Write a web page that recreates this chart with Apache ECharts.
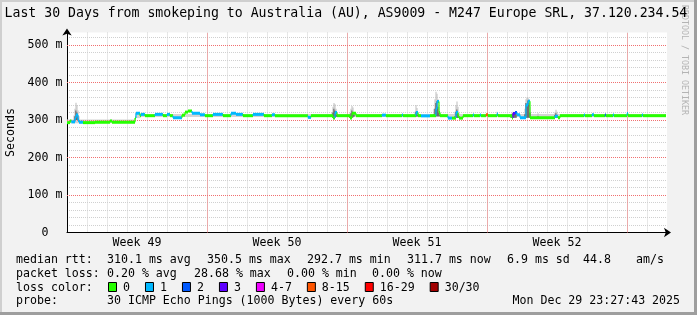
<!DOCTYPE html>
<html><head><meta charset="utf-8">
<script src="https://cdn.jsdelivr.net/npm/echarts@6/dist/echarts.min.js"></script>
<style>html,body{margin:0;padding:0;background:#f2f2f2}#c{width:697px;height:315px}</style>
</head><body><div id="c"></div>
<script>
// ---------- DATA ----------
const titleText = 'Last 30 Days from smokeping to Australia (AU), AS9009 - M247 Europe SRL, 37.120.234.54';
const yTicks = [0, 100, 200, 300, 400, 500];
const weekBounds = [7, 14, 21, 28];
const weekTicks = [3.5, 10.5, 17.5, 24.5];
const weekLabels = ['Week 49', 'Week 50', 'Week 51', 'Week 52'];
const lossLabels = ['0', '1', '2', '3', '4-7', '8-15', '16-29', '30/30'];
const lossColors = ['#26ff00', '#00b8ff', '#0059ff', '#5e00ff', '#ee00ff', '#ff5500', '#ff0000', '#a10000'];
const rttStats = ['310.1 ms avg', '350.5 ms max', '292.7 ms min', '311.7 ms now', '6.9 ms sd', '44.8', 'am/s'];
const lossStats = ['0.20 % avg', '28.68 % max', '0.00 % min', '0.00 % now'];
const probeText = '30 ICMP Echo Pings (1000 Bytes) every 60s';
const dateText = 'Mon Dec 29 23:27:43 2025';
const lastDay = 29.95;

// median rtt segments: start day, value (ms), loss class
const medStart = [0.00,0.15,0.22,0.40,0.45,0.55,0.60,0.80,1.40,2.15,2.25,3.40,3.45,3.65,3.70,3.90,4.40,4.80,5.00,5.15,5.30,5.75,5.90,6.05,6.25,6.65,6.90,7.30,7.80,8.20,8.45,8.80,9.30,9.85,10.25,10.40,12.05,12.20,13.30,13.40,13.50,14.15,14.25,14.45,15.75,15.95,16.75,16.80,17.45,17.55,17.70,18.15,18.45,18.50,18.60,18.65,19.05,19.25,19.45,19.55,19.60,19.80,20.30,20.35,20.65,20.70,20.95,21.05,21.50,21.55,22.25,22.30,22.40,22.50,22.65,22.95,23.05,23.15,24.40,24.55,24.65,25.85,25.90,26.25,26.35,26.90,26.95,27.30,27.35,28.00,28.05,28.75,28.80];
const medMs    = [293,297,295,305,313,300,294,293,294,297,294,305,318,311.5,315,311.5,315,311.5,315,311.5,306,313,321,324,318,314,311.5,315,311.5,318,315,311.5,315,311.5,314,311.5,307,311.5,305,320,311.5,305,318,311.5,313,311.5,313,311.5,320,311.5,311,311.5,330,349,320,311.5,305,305,320,310,305,311.5,313,311.5,313,311.5,314,311.5,316,311.5,305,317,320,314,306,340,350,306,310,306,311.5,313,311.5,314,311.5,313,311.5,313,311.5,317,311.5,313,311.5];
const medLoss  = [0,0,1,1,1,1,1,0,0,0,0,0,1,0,1,0,1,0,1,0,1,0,0,0,1,1,0,1,0,1,1,0,1,0,1,0,1,0,0,1,0,0,0,0,1,0,1,0,1,0,1,0,1,1,0,0,1,0,1,0,0,0,1,0,1,0,5,0,1,0,0,3,2,1,1,1,1,0,1,0,0,1,0,1,0,2,0,1,0,1,0,1,0];

// smoke band (spread of pings) segments: start day, low, high (ms)
const bandStart = [0.00, 3.40, 3.65];
const bandLo    = [291, 305, 308];
const bandHi    = [301, 320, 316];

// smoke spikes, one column per 0.05 day: day, low, core top, outer top (ms)
const smokeDay  = [0.35,0.40,0.45,0.50,0.55,0.60, 13.25,13.30,13.35,13.40,13.45,13.50, 14.15,14.20,14.25,14.30,14.35, 17.40,17.45,17.50,17.55, 18.35,18.40,18.45,18.50,18.55,18.60,18.65, 19.40,19.45,19.50,19.55,19.60, 21.50, 22.20,22.25,22.30,22.35,22.40,22.45, 22.90,22.95,23.00,23.05,23.10,23.15, 23.55, 24.40,24.45,24.50, 26.90];
const smokeLo   = [296,298,300,300,298,295, 308,305,305,306,308,309, 305,305,306,307,309, 309,309,309,310, 310,310,310,310,310,310,310, 305,305,305,305,305, 310, 306,306,306,306,306,306, 306,306,306,306,306,306, 306, 306,306,306, 310];
const smokeCore = [300,310,325,320,310,300, 312,320,330,325,318,313, 310,318,325,320,314, 313,322,318,313, 315,330,345,350,335,320,313, 310,322,328,318,310, 314, 310,315,318,316,320,317, 315,345,340,352,345,320, 310, 313,318,313, 313];
const smokeHi   = [312,330,346,340,325,310, 320,335,345,342,330,320, 318,330,337,333,322, 322,340,332,320, 330,355,375,370,355,335,320, 322,340,349,335,318, 322, 314,318,322,320,322,320, 330,355,360,360,355,335, 318, 320,327,322, 316];

// ---------- CHART ----------
const FONT = '"DejaVu Sans Mono", monospace';
const chart = echarts.init(document.getElementById('c'), null, {renderer: 'canvas'});

const medData = medStart.map((d, i) => [d, medMs[i], medLoss[i]]);
const bandData = bandStart.map((d, i) => [d, bandLo[i], bandHi[i]]);
const smokeData = smokeDay.map((d, i) => [d, smokeLo[i], smokeCore[i], smokeHi[i]]);
const redGrid = weekBounds.map(d => ({xAxis: d})).concat(yTicks.filter(v => v > 0).map(v => ({yAxis: v})));

function textEl(x, y, text, extra) {
  return Object.assign({type: 'text', x: x, y: y, silent: true,
    style: Object.assign({text: text, font: '11.6px ' + FONT, fill: '#000', verticalAlign: 'middle', align: 'left'}, (extra || {}))});
}
const CW = 6.98;
const g = [];
g.push({type: 'rect', shape: {x: 0, y: 0, width: 697, height: 2}, style: {fill: '#cfcfcf'}, silent: true});
g.push({type: 'rect', shape: {x: 0, y: 0, width: 2, height: 315}, style: {fill: '#cfcfcf'}, silent: true});
g.push({type: 'rect', shape: {x: 694, y: 0, width: 3, height: 315}, style: {fill: '#9e9e9e'}, silent: true});
g.push({type: 'rect', shape: {x: 0, y: 312, width: 697, height: 3}, style: {fill: '#9e9e9e'}, silent: true});
g.push(textEl(684, 5, 'RRDTOOL / TOBI OETIKER', {font: '8.3px ' + FONT, fill: '#b4b4b4'}));
g[g.length - 1].rotation = -Math.PI / 2;
g.push(textEl(4.5, 14, titleText, {font: '13.2px ' + FONT}));
const sec = textEl(10.5, 132.5, 'Seconds', {align: 'center'});
sec.rotation = Math.PI / 2;
g.push(sec);
// row 1
g.push(textEl(16, 259.5, 'median rtt:'));
const rttX = [107, 207, 307, 407, 507, 583, 636];
rttStats.forEach((s, i) => g.push(textEl(rttX[i], 259.5, s)));
// row 2
g.push(textEl(16, 273.5, 'packet loss:'));
const lossX = [107, 194, 287, 372];
lossStats.forEach((s, i) => g.push(textEl(lossX[i], 273.5, s)));
// row 3
g.push(textEl(16, 287.5, 'loss color:'));
let bx = 108;
lossLabels.forEach((s, i) => {
  g.push({type: 'rect', shape: {x: bx + 0.5, y: 282.5, width: 8, height: 9}, style: {fill: lossColors[i], stroke: '#000', lineWidth: 1}, silent: true});
  g.push(textEl(bx + 15, 287.5, s));
  bx = bx + 15 + s.length * CW + 15;
});
// row 4
g.push(textEl(16, 301, 'probe:'));
g.push(textEl(107, 301, probeText));
g.push(textEl(512.5, 301, dateText));

const gridLine = {show: true, showMinLine: false, showMaxLine: false, lineStyle: {color: '#d0d0d0', type: [1, 1], width: 1}};

chart.setOption({
  animation: false,
  backgroundColor: '#f2f2f2',
  grid: {left: 67, top: 32.5, width: 600, height: 200, containLabel: false, outerBoundsMode: 'none',
         show: true, backgroundColor: '#ffffff', borderWidth: 0},
  xAxis: [
    {type: 'value', min: 0, max: 30, interval: 1,
     axisLine: {show: true, lineStyle: {color: '#000', width: 1}, symbol: ['none', 'arrow'], symbolSize: [7, 7], symbolOffset: [0, 4]},
     axisTick: {show: false}, axisLabel: {show: false}, splitLine: gridLine},
    {type: 'value', min: 0, max: 30, interval: 3.5, position: 'bottom',
     axisLine: {show: false}, axisTick: {show: false}, splitLine: {show: false},
     axisLabel: {show: true, margin: 10.5, verticalAlign: 'middle', color: '#000', fontFamily: '"DejaVu Sans Mono"', fontSize: 11.6,
       formatter: v => { const k = weekTicks.indexOf(v); return k >= 0 ? weekLabels[k] : ''; }}}
  ],
  yAxis: [
    {type: 'value', min: 0, max: 533.33, interval: 20,
     axisLine: {show: true, lineStyle: {color: '#000', width: 1}, symbol: ['none', 'arrow'], symbolSize: [7, 7], symbolOffset: [0, 4]},
     axisTick: {show: false},
     axisLabel: {show: true, margin: 22, align: 'center', color: '#000', fontFamily: '"DejaVu Sans Mono"', fontSize: 11.6,
       formatter: v => yTicks.indexOf(v) >= 0 ? (v === 0 ? '0' : v + ' m') : ''},
     splitLine: gridLine}
  ],
  series: [
    {type: 'custom', xAxisIndex: 0, yAxisIndex: 0, data: bandData, z: 2, silent: true,
     markLine: {silent: true, symbol: ['none', 'none'], label: {show: false}, animation: false,
       lineStyle: {color: '#f07070', type: [1, 1], width: 1, opacity: 1}, emphasis: {disabled: true},
       data: redGrid},
     renderItem: (params, api) => {
       const i = params.dataIndex;
       const x1 = i + 1 < bandStart.length ? bandStart[i + 1] : lastDay;
       const a = api.coord([api.value(0), api.value(2)]);
       const b = api.coord([x1, api.value(1)]);
       return {type: 'rect', shape: {x: a[0], y: a[1], width: b[0] - a[0], height: b[1] - a[1]}, style: {fill: '#d4d4d4'}};
     }},
    {type: 'custom', xAxisIndex: 0, yAxisIndex: 0, data: smokeData, z: 3, silent: true,
     renderItem: (params, api) => {
       const w = api.size([0.05, 0])[0];
       const lo = api.coord([api.value(0), api.value(1)]);
       const core = api.coord([api.value(0), api.value(2)]);
       const hi = api.coord([api.value(0), api.value(3)]);
       return {type: 'group', children: [
         {type: 'rect', shape: {x: lo[0] - w / 2, y: hi[1], width: w, height: lo[1] - hi[1]}, style: {fill: '#bdbdbd'}},
         {type: 'rect', shape: {x: lo[0] - w / 2, y: core[1], width: w, height: lo[1] - core[1]}, style: {fill: '#3a3a3a'}}
       ]};
     }},
    {type: 'custom', xAxisIndex: 0, yAxisIndex: 0, data: medData, z: 5, silent: true,
     renderItem: (params, api) => {
       const i = params.dataIndex;
       const x0 = api.value(0), v = api.value(1);
       const x1 = i + 1 < medStart.length ? medStart[i + 1] : lastDay;
       const col = lossColors[api.value(2)];
       const p0 = api.coord([x0, v]), p1 = api.coord([x1, v]);
       const ch = [{type: 'line', shape: {x1: p0[0], y1: p0[1], x2: p1[0], y2: p1[1]}, style: {stroke: col, lineWidth: 3, lineCap: 'butt'}}];
       if (i > 0) {
         const pp = api.coord([x0, medMs[i - 1]]);
         ch.push({type: 'line', shape: {x1: pp[0], y1: pp[1], x2: p0[0], y2: p0[1]}, style: {stroke: col, lineWidth: 1.2}});
       }
       return {type: 'group', children: ch};
     }}
  ],
  graphic: {elements: g}
});
</script></body></html>
